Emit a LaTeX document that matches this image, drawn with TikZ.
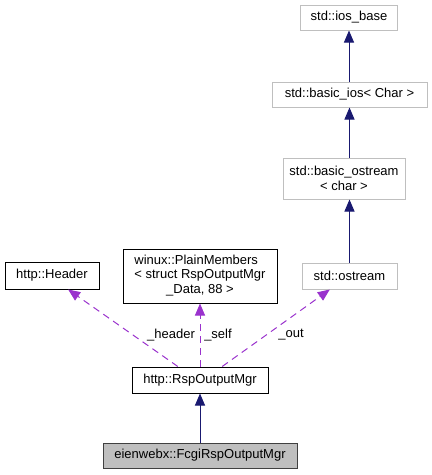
\documentclass[tikz,border=0pt]{standalone}
\usepackage{fontspec}
\setmainfont{Liberation Sans}
\usetikzlibrary{arrows.meta,calc}
\definecolor{inhcol}{HTML}{191970}
\definecolor{depcol}{HTML}{9A32CD}
\definecolor{greyline}{HTML}{BFBFBF}
\definecolor{greyfill}{HTML}{BFBFBF}
\tikzset{
  cls/.style={draw=black, line width=1pt, inner sep=0pt, align=center, font=\fontsize{13}{14.7}\selectfont},
  extcls/.style={cls, draw=greyline},
  curcls/.style={cls, draw=black!75, fill=greyfill},
  inh/.style={draw=inhcol, line width=1pt, -{Triangle[length=12pt,width=10pt]}},
  dep/.style={draw=depcol, line width=1pt, dash pattern=on 7pt off 5pt, -{Triangle[length=12pt,width=10pt]}},
  lbl/.style={inner sep=0pt, font=\fontsize{13}{14.7}\selectfont}
}
\begin{document}
\begin{tikzpicture}[x=1pt,y=-1pt]
\useasboundingbox (0,0) rectangle (432,475);
\node[extcls, minimum width=97pt, minimum height=25pt] (iosbase) at (349,17.5) {std::ios\_base};
\node[extcls, minimum width=155pt, minimum height=25pt] (basicios) at (349.5,94.5) {std::basic\_ios< Char >};
\node[extcls, minimum width=122pt, minimum height=41pt] (basicostream) at (344,178.5) {std::basic\_ostream\\< char >};
\node[extcls, minimum width=95pt, minimum height=26pt] (ostreambox) at (349.5,276) {std::ostream};
\node[cls, minimum width=94pt, minimum height=27pt] (header) at (52,275.5) {http::Header};
\node[cls, minimum width=154pt, minimum height=54pt] (plain) at (200,276) {\begin{tabular}{@{}l@{}}winux::PlainMembers\\< struct RspOutputMgr\\\multicolumn{1}{@{}c@{}}{\_Data, 88 >}\end{tabular}};
\node[cls, minimum width=136pt, minimum height=26pt] (rsp) at (200,380) {http::RspOutputMgr};
\node[curcls, minimum width=194pt, minimum height=25pt] (fcgi) at (200,455.5) {eienwebx::FcgiRspOutputMgr};

\draw[inh] (basicios.north -| iosbase.south) -- (iosbase.south);
\draw[inh] (basicostream.north -| basicios.south) -- (basicios.south);
\draw[inh] (ostreambox.north -| basicios.south) -- (ostreambox.north |- basicostream.south);
\draw[inh] (fcgi.north -| rsp.south) -- (rsp.south);

\draw[dep] ($(rsp.north west)!0.338!(rsp.north east)$) -- ($(header.south west)!0.67!(header.south east)$);
\draw[dep] (rsp.north) -- (plain.south);
\draw[dep] ($(rsp.north west)!0.662!(rsp.north east)$) -- ($(ostreambox.south west)!0.295!(ostreambox.south east)$);

\node[lbl] (lheader) at (171,335) {\_header};
\node[lbl] (lself) at (218,335) {\_self};
\node[lbl] (lout) at (291,335) {\_out};
\end{tikzpicture}
\end{document}
